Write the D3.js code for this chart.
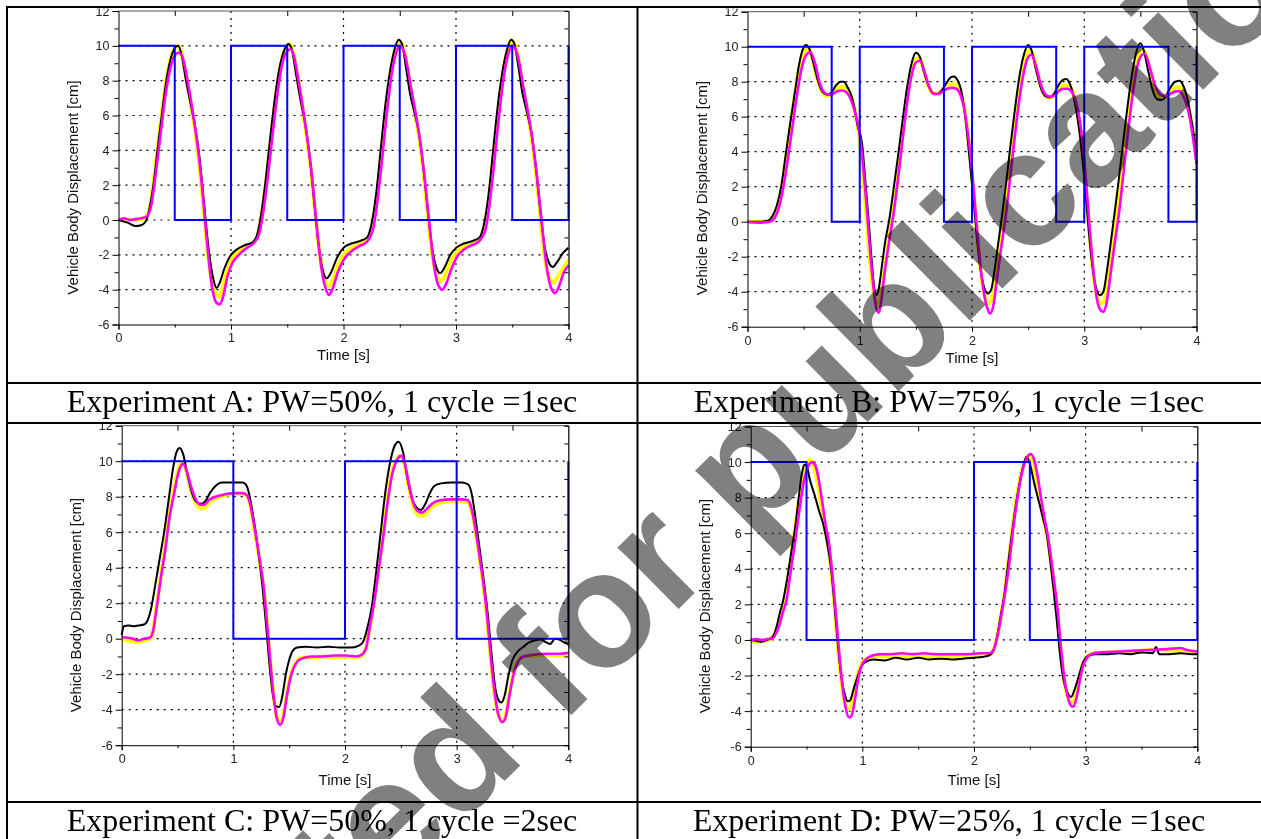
<!DOCTYPE html>
<html>
<head>
<meta charset="utf-8">
<script src="https://cdnjs.cloudflare.com/ajax/libs/d3/7.8.5/d3.min.js"></script>
<style>
  body { margin: 0; background: #fff; }
  svg { display: block; }
</style>
</head>
<body>
<div id="chart"></div>
<script>
// ---- tick labels / axis text ----
const xTicks = [0, 1, 2, 3, 4];
const yTicks = [-6, -4, -2, 0, 2, 4, 6, 8, 10, 12];
const yLabel = 'Vehicle Body Displacement [cm]';
const xLabel = 'Time [s]';
const watermark = 'Accepted for publication';

const captionA = 'Experiment A: PW=50%, 1 cycle =1sec';
const captionB = 'Experiment B: PW=75%, 1 cycle =1sec';
const captionC = 'Experiment C: PW=50%, 1 cycle =2sec';
const captionD = 'Experiment D: PW=25%, 1 cycle =1sec';

// ---- Experiment A (time [s], displacement [cm]) ----
const blueA = [[0,10],[0.5,10],[0.5,0],[1,0],[1,10],[1.5,10],[1.5,0],[2,0],[2,10],[2.5,10],[2.5,0],[3,0],[3,10],[3.5,10],[3.5,0],[4,0],[4,10]];
const blackA = [[0,0],[0.08,-0.15],[0.15,-0.35],[0.2,-0.3],[0.24,-0.1],[0.27,0.5],[0.31,2.0],[0.35,4.2],[0.39,6.3],[0.43,8.2],[0.47,9.4],[0.51,9.95],[0.53,10.0],[0.56,9.5],[0.6,8.0],[0.64,6.7],[0.68,5.4],[0.72,3.6],[0.76,1.0],[0.8,-1.6],[0.84,-3.3],[0.87,-3.9],[0.9,-3.6],[0.94,-2.8],[0.99,-2.1],[1.05,-1.7],[1.12,-1.45],[1.19,-1.3],[1.23,-0.9],[1.27,0.4],[1.31,2.4],[1.35,4.8],[1.39,7.0],[1.43,8.7],[1.47,9.7],[1.51,10.1],[1.54,9.8],[1.58,8.3],[1.62,6.8],[1.66,5.5],[1.7,3.6],[1.74,1.0],[1.78,-1.5],[1.82,-3.0],[1.85,-3.35],[1.89,-3.0],[1.94,-2.2],[2.0,-1.6],[2.07,-1.35],[2.15,-1.2],[2.21,-1.0],[2.25,-0.2],[2.29,1.5],[2.33,4.0],[2.37,6.5],[2.41,8.4],[2.45,9.7],[2.49,10.35],[2.52,10.1],[2.55,9.0],[2.59,7.3],[2.63,6.2],[2.67,5.0],[2.71,3.0],[2.75,0.5],[2.79,-1.7],[2.83,-2.8],[2.86,-3.05],[2.9,-2.7],[2.95,-2.0],[3.0,-1.6],[3.07,-1.35],[3.15,-1.2],[3.21,-1.0],[3.25,-0.2],[3.29,1.5],[3.33,4.0],[3.37,6.5],[3.41,8.4],[3.45,9.7],[3.49,10.35],[3.52,10.1],[3.55,9.0],[3.59,7.3],[3.63,6.2],[3.67,5.0],[3.71,3.0],[3.75,0.5],[3.79,-1.6],[3.83,-2.5],[3.86,-2.7],[3.9,-2.4],[3.95,-1.9],[4.0,-1.6]];
const yellowA = [[0,0],[0.1,0],[0.2,0.05],[0.25,0.2],[0.28,0.8],[0.32,2.6],[0.36,4.8],[0.4,6.9],[0.44,8.6],[0.48,9.6],[0.52,10.0],[0.55,9.8],[0.58,9.0],[0.62,7.6],[0.66,6.0],[0.7,4.2],[0.74,1.8],[0.78,-1.0],[0.82,-3.2],[0.86,-4.2],[0.89,-4.4],[0.92,-4.0],[0.96,-3.0],[1.0,-2.3],[1.06,-1.8],[1.13,-1.5],[1.2,-1.3],[1.24,-0.8],[1.28,0.6],[1.32,2.6],[1.36,4.9],[1.4,7.1],[1.44,8.8],[1.48,9.8],[1.52,10.1],[1.55,9.7],[1.59,8.3],[1.63,6.7],[1.67,4.9],[1.71,2.9],[1.75,0.3],[1.79,-2.0],[1.83,-3.4],[1.87,-3.8],[1.9,-3.5],[1.95,-2.6],[2.0,-2.0],[2.07,-1.6],[2.14,-1.4],[2.2,-1.2],[2.25,-0.5],[2.29,1.0],[2.33,3.3],[2.37,5.8],[2.41,8.0],[2.45,9.5],[2.49,10.2],[2.52,10.1],[2.55,9.4],[2.59,7.8],[2.63,6.4],[2.67,4.8],[2.71,2.8],[2.75,0.2],[2.79,-2.0],[2.83,-3.2],[2.87,-3.5],[2.9,-3.2],[2.95,-2.4],[3.0,-1.9],[3.07,-1.5],[3.14,-1.35],[3.2,-1.2],[3.25,-0.5],[3.29,1.0],[3.33,3.3],[3.37,5.8],[3.41,8.0],[3.45,9.5],[3.49,10.3],[3.52,10.1],[3.55,9.4],[3.59,7.8],[3.63,6.4],[3.67,4.8],[3.71,2.8],[3.75,0.2],[3.79,-2.2],[3.83,-3.3],[3.87,-3.6],[3.9,-3.3],[3.95,-2.8],[4.0,-2.3]];
const magentaA = [[0,0],[0.05,0.1],[0.1,0],[0.15,0.05],[0.2,0.1],[0.25,0.2],[0.29,0.8],[0.33,2.6],[0.37,4.7],[0.41,6.8],[0.45,8.4],[0.49,9.3],[0.53,9.6],[0.56,9.5],[0.59,8.8],[0.63,7.4],[0.67,5.8],[0.71,3.9],[0.75,1.4],[0.79,-1.5],[0.83,-3.8],[0.87,-4.75],[0.9,-4.85],[0.93,-4.4],[0.97,-3.2],[1.01,-2.5],[1.07,-2.0],[1.14,-1.6],[1.2,-1.35],[1.25,-0.8],[1.29,0.6],[1.33,2.6],[1.37,4.9],[1.41,7.1],[1.45,8.8],[1.49,9.6],[1.53,9.8],[1.56,9.4],[1.6,8.0],[1.64,6.4],[1.68,4.6],[1.72,2.5],[1.76,-0.2],[1.8,-2.6],[1.84,-3.9],[1.87,-4.3],[1.9,-4.0],[1.95,-3.0],[2.0,-2.3],[2.07,-1.8],[2.14,-1.5],[2.2,-1.3],[2.26,-0.6],[2.3,1.0],[2.34,3.3],[2.38,5.8],[2.42,8.0],[2.46,9.4],[2.5,10.0],[2.53,9.8],[2.56,9.1],[2.6,7.6],[2.64,6.2],[2.68,4.6],[2.72,2.5],[2.76,0.0],[2.8,-2.4],[2.84,-3.7],[2.88,-4.0],[2.91,-3.7],[2.96,-2.8],[3.01,-2.1],[3.07,-1.7],[3.14,-1.45],[3.2,-1.25],[3.26,-0.6],[3.3,1.0],[3.34,3.3],[3.38,5.8],[3.42,8.0],[3.46,9.4],[3.5,10.0],[3.53,9.8],[3.56,9.1],[3.6,7.6],[3.64,6.2],[3.68,4.6],[3.72,2.5],[3.76,0.0],[3.8,-2.4],[3.84,-3.8],[3.88,-4.2],[3.91,-3.9],[3.96,-3.0],[4.0,-2.6]];

// ---- Experiment B ----
const blueB = [[0,10],[0.75,10],[0.75,0],[1,0],[1,10],[1.75,10],[1.75,0],[2,0],[2,10],[2.75,10],[2.75,0],[3,0],[3,10],[3.75,10],[3.75,0],[4,0],[4,10]];
const blackB = [[0,0],[0.1,0],[0.18,0.05],[0.22,0.3],[0.26,0.9],[0.3,2.0],[0.34,3.8],[0.38,5.6],[0.42,7.3],[0.46,9.0],[0.49,9.8],[0.52,10.1],[0.55,9.9],[0.59,9.0],[0.63,8.0],[0.67,7.4],[0.71,7.25],[0.75,7.4],[0.79,7.8],[0.83,8.0],[0.86,8.0],[0.89,7.7],[0.92,7.3],[0.95,6.6],[0.98,5.5],[1.02,4.5],[1.05,2.3],[1.08,0],[1.11,-2.5],[1.13,-3.8],[1.15,-4.2],[1.17,-3.8],[1.2,-2.4],[1.23,-1.0],[1.26,0],[1.3,1.8],[1.34,3.7],[1.38,5.7],[1.42,7.6],[1.46,9.0],[1.5,9.65],[1.53,9.5],[1.57,8.6],[1.61,7.8],[1.65,7.35],[1.69,7.3],[1.73,7.5],[1.77,7.9],[1.81,8.25],[1.84,8.3],[1.87,8.1],[1.9,7.6],[1.93,6.5],[1.96,4.8],[1.99,2.8],[2.02,0.8],[2.05,-1.3],[2.08,-2.9],[2.11,-3.8],[2.14,-4.1],[2.17,-3.9],[2.2,-2.8],[2.23,-1.4],[2.26,0],[2.3,2.0],[2.34,4.2],[2.38,6.3],[2.42,8.2],[2.46,9.5],[2.5,10.1],[2.53,9.8],[2.57,8.7],[2.61,7.7],[2.65,7.2],[2.69,7.1],[2.73,7.3],[2.77,7.8],[2.81,8.1],[2.84,8.15],[2.87,7.9],[2.9,7.3],[2.93,6.3],[2.96,5.0],[2.99,3.2],[3.02,1.0],[3.05,-1.2],[3.08,-2.9],[3.11,-3.9],[3.14,-4.2],[3.17,-4.0],[3.2,-2.9],[3.23,-1.5],[3.26,0],[3.3,2.0],[3.34,4.2],[3.38,6.3],[3.42,8.2],[3.46,9.6],[3.5,10.2],[3.53,9.8],[3.57,8.6],[3.61,7.5],[3.65,7.0],[3.69,6.95],[3.73,7.2],[3.77,7.7],[3.81,8.0],[3.85,8.05],[3.88,7.8],[3.92,7.0],[3.96,5.6],[4.0,4.0]];
const yellowB = [[0,0],[0.1,0],[0.2,0.05],[0.23,0.25],[0.27,0.9],[0.31,2.1],[0.35,3.9],[0.39,5.8],[0.43,7.6],[0.47,9.0],[0.51,9.8],[0.54,9.95],[0.58,9.3],[0.62,8.2],[0.66,7.5],[0.7,7.2],[0.74,7.25],[0.78,7.5],[0.82,7.7],[0.86,7.7],[0.9,7.45],[0.94,6.8],[0.98,5.6],[1.01,4.0],[1.04,1.8],[1.07,-0.6],[1.1,-2.8],[1.13,-4.3],[1.16,-4.75],[1.19,-4.2],[1.22,-2.8],[1.26,-1.0],[1.3,0.6],[1.34,2.6],[1.38,4.9],[1.42,7.0],[1.46,8.6],[1.5,9.3],[1.53,9.35],[1.57,8.7],[1.61,7.8],[1.65,7.35],[1.69,7.3],[1.73,7.45],[1.77,7.7],[1.81,7.85],[1.85,7.85],[1.89,7.5],[1.93,6.6],[1.96,5.2],[1.99,3.4],[2.02,1.3],[2.05,-1.0],[2.08,-2.9],[2.11,-4.1],[2.14,-4.7],[2.17,-4.5],[2.2,-3.6],[2.23,-2.0],[2.27,-0.3],[2.31,1.6],[2.35,3.9],[2.39,6.2],[2.43,8.1],[2.47,9.4],[2.51,9.8],[2.54,9.6],[2.58,8.6],[2.62,7.6],[2.66,7.15],[2.7,7.1],[2.74,7.3],[2.78,7.6],[2.82,7.8],[2.86,7.75],[2.9,7.4],[2.93,6.6],[2.96,5.4],[2.99,3.7],[3.02,1.5],[3.05,-0.9],[3.08,-2.9],[3.11,-4.2],[3.14,-4.7],[3.17,-4.6],[3.2,-3.8],[3.23,-2.3],[3.27,-0.4],[3.31,1.5],[3.35,3.8],[3.39,6.1],[3.43,8.0],[3.47,9.3],[3.51,9.85],[3.54,9.7],[3.58,8.8],[3.62,7.8],[3.66,7.2],[3.7,7.05],[3.74,7.2],[3.78,7.5],[3.82,7.7],[3.86,7.65],[3.9,7.2],[3.94,6.2],[3.97,5.0],[4.0,3.8]];
const magentaB = [[0,0],[0.1,-0.05],[0.2,0],[0.24,0.2],[0.28,0.8],[0.32,2.0],[0.36,3.6],[0.4,5.4],[0.44,7.2],[0.48,8.7],[0.52,9.5],[0.56,9.7],[0.6,9.1],[0.64,8.0],[0.68,7.4],[0.72,7.25],[0.76,7.3],[0.8,7.45],[0.84,7.5],[0.88,7.4],[0.92,7.0],[0.96,6.2],[1.0,5.0],[1.03,3.2],[1.06,1.0],[1.09,-1.5],[1.12,-3.6],[1.15,-5.0],[1.17,-5.2],[1.19,-4.6],[1.22,-3.0],[1.26,-1.2],[1.3,0.4],[1.34,2.4],[1.38,4.6],[1.42,6.7],[1.46,8.3],[1.5,9.1],[1.54,9.2],[1.58,8.5],[1.62,7.7],[1.66,7.3],[1.7,7.3],[1.74,7.45],[1.78,7.6],[1.82,7.65],[1.86,7.6],[1.9,7.2],[1.93,6.5],[1.96,5.2],[1.99,3.6],[2.02,1.5],[2.05,-0.8],[2.08,-2.8],[2.11,-4.2],[2.14,-5.0],[2.16,-5.25],[2.19,-4.8],[2.22,-3.4],[2.26,-1.5],[2.3,0.3],[2.34,2.5],[2.38,4.8],[2.42,6.9],[2.46,8.5],[2.5,9.4],[2.53,9.55],[2.57,8.9],[2.61,7.9],[2.65,7.3],[2.69,7.15],[2.73,7.2],[2.77,7.45],[2.81,7.6],[2.85,7.6],[2.89,7.4],[2.93,6.8],[2.96,5.8],[2.99,4.2],[3.02,2.0],[3.05,-0.5],[3.08,-2.7],[3.11,-4.3],[3.14,-5.0],[3.17,-5.15],[3.2,-4.6],[3.23,-3.2],[3.27,-1.3],[3.31,0.5],[3.35,2.8],[3.39,5.1],[3.43,7.2],[3.47,8.8],[3.51,9.5],[3.54,9.6],[3.58,8.9],[3.62,8.0],[3.66,7.4],[3.7,7.2],[3.74,7.2],[3.78,7.35],[3.82,7.45],[3.85,7.45],[3.88,7.2],[3.92,6.5],[3.96,5.2],[4.0,3.3]];

// ---- Experiment C ----
const blueC = [[0,10],[1,10],[1,0],[2,0],[2,10],[3,10],[3,0],[4,0],[4,10]];
const blackC = [[0,0.2],[0.02,0.7],[0.06,0.75],[0.1,0.7],[0.15,0.75],[0.2,0.8],[0.23,1.0],[0.26,1.6],[0.3,3.0],[0.34,4.5],[0.38,6.0],[0.42,7.8],[0.46,9.6],[0.49,10.5],[0.52,10.75],[0.55,10.4],[0.59,9.2],[0.63,8.2],[0.67,7.7],[0.71,7.6],[0.75,7.75],[0.79,8.2],[0.84,8.6],[0.9,8.8],[1.0,8.8],[1.08,8.8],[1.11,8.7],[1.14,8.2],[1.17,7.2],[1.2,6.0],[1.23,4.6],[1.26,3.0],[1.29,1.0],[1.32,-1.2],[1.35,-3.0],[1.38,-3.8],[1.41,-3.85],[1.44,-3.2],[1.47,-2.0],[1.5,-1.2],[1.53,-0.7],[1.57,-0.5],[1.65,-0.45],[1.75,-0.5],[1.85,-0.45],[1.95,-0.5],[2.05,-0.5],[2.12,-0.4],[2.16,-0.2],[2.2,0.6],[2.24,1.8],[2.28,3.8],[2.32,6.0],[2.36,8.2],[2.4,9.8],[2.44,10.8],[2.48,11.1],[2.52,10.5],[2.56,9.0],[2.6,7.9],[2.64,7.4],[2.68,7.25],[2.72,7.6],[2.76,8.2],[2.8,8.6],[2.86,8.75],[2.95,8.8],[3.05,8.8],[3.1,8.7],[3.13,8.3],[3.16,7.2],[3.19,5.8],[3.22,4.4],[3.25,2.9],[3.28,1.3],[3.31,-0.7],[3.34,-2.5],[3.37,-3.4],[3.4,-3.6],[3.43,-3.2],[3.46,-2.2],[3.5,-1.2],[3.55,-0.7],[3.6,-0.45],[3.65,-0.2],[3.7,-0.1],[3.75,-0.05],[3.8,-0.2],[3.84,-0.3],[3.88,0.0],[3.92,-0.05],[3.96,-0.2],[4.0,-0.3]];
const yellowC = [[0,0],[0.05,-0.1],[0.1,-0.15],[0.15,-0.2],[0.2,-0.1],[0.25,0.0],[0.28,0.4],[0.31,1.7],[0.35,3.5],[0.39,5.2],[0.43,7.1],[0.47,8.5],[0.51,9.6],[0.54,9.9],[0.58,9.4],[0.62,8.4],[0.66,7.7],[0.7,7.35],[0.74,7.35],[0.78,7.65],[0.84,7.9],[0.9,8.05],[1.0,8.15],[1.08,8.15],[1.12,8.05],[1.15,7.55],[1.18,6.5],[1.21,5.4],[1.24,4.2],[1.27,2.9],[1.3,0.9],[1.33,-1.3],[1.36,-3.2],[1.39,-4.4],[1.42,-4.7],[1.45,-4.3],[1.48,-3.1],[1.52,-1.9],[1.56,-1.35],[1.6,-1.1],[1.7,-1.05],[1.8,-1.0],[1.9,-1.05],[2.0,-1.0],[2.1,-1.05],[2.15,-0.95],[2.19,-0.5],[2.22,0.6],[2.26,2.1],[2.3,3.9],[2.34,5.8],[2.38,7.8],[2.42,9.4],[2.46,10.1],[2.49,10.3],[2.53,9.9],[2.57,8.6],[2.61,7.5],[2.65,7.0],[2.69,6.9],[2.73,7.1],[2.78,7.45],[2.85,7.65],[2.95,7.75],[3.05,7.75],[3.1,7.7],[3.13,7.3],[3.16,6.4],[3.19,5.2],[3.22,3.9],[3.25,2.5],[3.28,0.7],[3.31,-1.4],[3.34,-3.1],[3.37,-4.2],[3.41,-4.65],[3.44,-4.3],[3.47,-3.2],[3.51,-1.9],[3.55,-1.25],[3.6,-1.0],[3.7,-0.95],[3.8,-0.9],[3.9,-0.95],[4.0,-0.9]];
const magentaC = [[0,0.1],[0.05,0.05],[0.1,0.0],[0.15,-0.1],[0.2,0.0],[0.25,0.05],[0.28,0.4],[0.31,1.6],[0.35,3.4],[0.39,5.0],[0.43,6.9],[0.47,8.2],[0.51,9.4],[0.55,9.85],[0.58,9.5],[0.62,8.6],[0.66,7.9],[0.7,7.55],[0.74,7.55],[0.78,7.8],[0.84,8.0],[0.9,8.1],[1.0,8.2],[1.08,8.2],[1.12,8.1],[1.15,7.6],[1.18,6.6],[1.21,5.5],[1.24,4.3],[1.27,3.0],[1.3,1.0],[1.33,-1.2],[1.36,-3.2],[1.39,-4.5],[1.42,-4.85],[1.45,-4.4],[1.48,-3.2],[1.52,-2.0],[1.56,-1.4],[1.6,-1.15],[1.7,-1.0],[1.8,-1.0],[1.9,-0.95],[2.0,-0.95],[2.1,-1.0],[2.15,-0.9],[2.19,-0.5],[2.22,0.6],[2.26,2.0],[2.3,3.8],[2.34,5.6],[2.38,7.6],[2.42,9.2],[2.46,10.0],[2.5,10.3],[2.53,10.0],[2.57,8.8],[2.61,7.7],[2.65,7.2],[2.69,7.1],[2.73,7.3],[2.78,7.6],[2.85,7.8],[2.95,7.85],[3.05,7.85],[3.1,7.8],[3.13,7.4],[3.16,6.5],[3.19,5.3],[3.22,4.0],[3.25,2.6],[3.28,0.8],[3.31,-1.3],[3.34,-3.0],[3.37,-4.2],[3.41,-4.7],[3.44,-4.4],[3.47,-3.3],[3.51,-2.0],[3.55,-1.3],[3.6,-1.0],[3.7,-0.9],[3.8,-0.85],[3.9,-0.85],[4.0,-0.8]];

// ---- Experiment D ----
const blueD = [[0,10],[0.5,10],[0.5,0],[2,0],[2,10],[2.5,10],[2.5,0],[4,0],[4,10]];
const blackD = [[0,0],[0.05,-0.05],[0.1,-0.1],[0.15,0.0],[0.2,0.2],[0.23,0.7],[0.26,1.5],[0.29,2.2],[0.32,3.2],[0.36,4.8],[0.4,6.4],[0.43,8.0],[0.46,9.4],[0.48,9.85],[0.5,9.8],[0.53,9.0],[0.57,8.2],[0.61,7.3],[0.65,6.5],[0.68,5.6],[0.72,4.0],[0.75,2.0],[0.78,-0.2],[0.81,-2.0],[0.84,-3.0],[0.87,-3.45],[0.89,-3.4],[0.92,-2.8],[0.96,-2.0],[1.0,-1.4],[1.04,-1.2],[1.1,-1.1],[1.2,-1.15],[1.3,-1.0],[1.4,-1.1],[1.5,-1.0],[1.6,-1.1],[1.7,-1.05],[1.8,-1.1],[1.9,-1.05],[2.0,-1.0],[2.08,-0.95],[2.14,-0.85],[2.18,-0.5],[2.21,0.3],[2.24,1.4],[2.27,2.5],[2.3,4.0],[2.34,6.0],[2.38,7.8],[2.42,9.2],[2.45,10.0],[2.47,10.3],[2.5,9.9],[2.54,8.8],[2.58,7.8],[2.62,6.8],[2.65,6.0],[2.68,4.6],[2.71,3.0],[2.74,1.2],[2.77,-0.8],[2.8,-2.2],[2.84,-3.0],[2.87,-3.2],[2.9,-2.8],[2.94,-2.0],[2.98,-1.2],[3.02,-0.9],[3.08,-0.8],[3.2,-0.8],[3.3,-0.75],[3.4,-0.8],[3.5,-0.7],[3.6,-0.75],[3.63,-0.4],[3.66,-0.8],[3.75,-0.8],[3.85,-0.75],[3.95,-0.8],[4.0,-0.8]];
const yellowD = [[0,-0.05],[0.05,-0.1],[0.1,-0.05],[0.15,0.0],[0.2,0.15],[0.23,0.55],[0.26,1.2],[0.29,1.9],[0.32,2.8],[0.35,4.0],[0.39,5.9],[0.43,7.7],[0.47,9.2],[0.5,9.9],[0.53,10.1],[0.56,9.8],[0.6,8.8],[0.63,7.6],[0.66,6.4],[0.69,5.5],[0.72,4.0],[0.75,2.0],[0.78,-0.3],[0.81,-2.2],[0.84,-3.4],[0.87,-3.9],[0.89,-3.85],[0.92,-3.1],[0.95,-2.2],[0.98,-1.5],[1.02,-1.15],[1.08,-1.0],[1.15,-0.9],[1.25,-0.95],[1.35,-0.9],[1.45,-0.95],[1.55,-0.9],[1.65,-0.95],[1.75,-0.9],[1.85,-0.95],[1.95,-0.9],[2.05,-0.85],[2.14,-0.8],[2.18,-0.5],[2.21,0.25],[2.24,1.3],[2.27,2.4],[2.3,3.9],[2.34,6.0],[2.38,7.9],[2.42,9.3],[2.46,10.1],[2.49,10.35],[2.52,10.0],[2.56,8.9],[2.6,7.6],[2.63,6.6],[2.66,5.7],[2.69,4.4],[2.72,2.9],[2.75,1.2],[2.78,-0.7],[2.81,-2.3],[2.84,-3.2],[2.87,-3.5],[2.89,-3.45],[2.92,-2.9],[2.95,-2.0],[2.98,-1.3],[3.02,-0.9],[3.07,-0.75],[3.2,-0.7],[3.35,-0.65],[3.5,-0.6],[3.65,-0.55],[3.75,-0.6],[3.85,-0.55],[3.95,-0.7],[4.0,-0.7]];
const magentaD = [[0,0],[0.05,0.05],[0.1,0],[0.15,0.05],[0.2,0.1],[0.23,0.4],[0.26,0.9],[0.29,1.6],[0.32,2.2],[0.35,3.5],[0.39,5.2],[0.43,7.0],[0.47,8.7],[0.51,9.7],[0.55,10.0],[0.58,9.8],[0.61,9.0],[0.64,7.8],[0.67,6.5],[0.7,5.5],[0.73,3.8],[0.76,1.7],[0.79,-0.5],[0.82,-2.5],[0.85,-3.8],[0.88,-4.35],[0.9,-4.3],[0.93,-3.5],[0.96,-2.3],[0.99,-1.5],[1.03,-1.1],[1.08,-0.9],[1.15,-0.8],[1.25,-0.8],[1.35,-0.75],[1.45,-0.8],[1.55,-0.75],[1.65,-0.8],[1.75,-0.8],[1.85,-0.8],[1.95,-0.8],[2.05,-0.75],[2.14,-0.75],[2.18,-0.5],[2.21,0.2],[2.24,1.2],[2.27,2.3],[2.31,4.0],[2.35,6.2],[2.39,8.0],[2.43,9.4],[2.47,10.2],[2.51,10.45],[2.54,10.1],[2.57,9.2],[2.6,8.0],[2.63,6.9],[2.66,5.9],[2.69,4.6],[2.72,3.2],[2.75,1.6],[2.78,-0.5],[2.81,-2.2],[2.84,-3.2],[2.87,-3.7],[2.89,-3.75],[2.92,-3.2],[2.95,-2.2],[2.98,-1.4],[3.02,-0.95],[3.07,-0.75],[3.15,-0.7],[3.3,-0.65],[3.45,-0.6],[3.6,-0.55],[3.75,-0.5],[3.85,-0.45],[3.9,-0.55],[4.0,-0.65]];

// ---- layout (pixels) ----
const W = 1261, H = 839;
const panels = [
  { caption: captionA, blue: blueA, black: blackA, yellow: yellowA, magenta: magentaA,
    cell: [8, 8.5, 628, 373.5], plot: [118.5, 568.5, 11, 324.5], capX: 322, capY: 412, timeY: 360, labX: 78, labY: 187.5 },
  { caption: captionB, blue: blueB, black: blackB, yellow: yellowB, magenta: magentaB,
    cell: [639, 8.5, 622, 373.5], plot: [747.5, 1196.5, 11.7, 326.7], capX: 949, capY: 412, timeY: 363, labX: 707, labY: 188 },
  { caption: captionC, blue: blueC, black: blackC, yellow: yellowC, magenta: magentaC,
    cell: [8, 424, 628, 377], plot: [121.7, 568.3, 425.7, 745.2], capX: 322, capY: 831, timeY: 785, labX: 81, labY: 605 },
  { caption: captionD, blue: blueD, black: blackD, yellow: yellowD, magenta: magentaD,
    cell: [639, 424, 622, 377], plot: [750.7, 1197.3, 426.5, 746.7], capX: 949, capY: 831, timeY: 785, labX: 710, labY: 606 }
];

const sans = "'Liberation Sans', Arial, sans-serif";
const serif = "'Liberation Serif', 'Times New Roman', serif";
const plain = d => String(d); // hyphen minus, no decimals

const svg = d3.select('#chart').append('svg')
  .attr('width', W)
  .attr('height', H);

svg.append('rect').attr('width', W).attr('height', H).attr('fill', '#fff');

function drawPanel(p, i) {
  const [x0, x1, y0, y1] = p.plot;
  const x = d3.scaleLinear().domain([0, 4]).range([x0, x1]);
  const y = d3.scaleLinear().domain([-6, 12]).range([y1, y0]);

  svg.append('clipPath').attr('id', 'cell' + i)
    .append('rect')
    .attr('x', p.cell[0]).attr('y', p.cell[1])
    .attr('width', p.cell[2]).attr('height', p.cell[3]);

  const g = svg.append('g').attr('clip-path', `url(#cell${i})`);

  // dotted grid
  g.append('g')
    .selectAll('line')
    .data(yTicks.filter(v => v > -6 && v < 12))
    .enter().append('line')
    .attr('x1', x0).attr('x2', x1)
    .attr('y1', d => y(d)).attr('y2', d => y(d))
    .attr('stroke', '#000').attr('stroke-width', 1.2).attr('stroke-dasharray', '2,5');
  g.append('g')
    .selectAll('line')
    .data(xTicks.filter(v => v > 0 && v < 4))
    .enter().append('line')
    .attr('x1', d => x(d)).attr('x2', d => x(d))
    .attr('y1', y0).attr('y2', y1)
    .attr('stroke', '#000').attr('stroke-width', 1.2).attr('stroke-dasharray', '2,5');

  // curves
  const smooth = d3.line().x(d => x(d[0])).y(d => y(d[1])).curve(d3.curveMonotoneX);
  const step = d3.line().x(d => x(d[0])).y(d => y(d[1]));

  g.append('path').datum(p.yellow).attr('d', smooth)
    .attr('fill', 'none').attr('stroke', '#ffff00').attr('stroke-width', 4).attr('stroke-linejoin', 'round');
  g.append('path').datum(p.black).attr('d', smooth)
    .attr('fill', 'none').attr('stroke', '#000').attr('stroke-width', 2).attr('stroke-linejoin', 'round');
  g.append('path').datum(p.magenta).attr('d', smooth)
    .attr('fill', 'none').attr('stroke', '#ff00ff').attr('stroke-width', 2.6).attr('stroke-linejoin', 'round');
  g.append('path').datum(p.blue).attr('d', step)
    .attr('fill', 'none').attr('stroke', '#0000ff').attr('stroke-width', 2);

  // frame: top and right
  g.append('line').attr('x1', x0).attr('x2', x1).attr('y1', y0).attr('y2', y0)
    .attr('stroke', '#555').attr('stroke-width', 1);
  g.append('g')
    .attr('transform', `translate(0,${y0})`)
    .call(d3.axisBottom(x).tickValues([0.5, 1.5, 2.5, 3.5]).tickSize(5).tickFormat(''))
    .call(a => a.select('.domain').remove());
  g.append('g')
    .attr('transform', `translate(${x1},0)`)
    .call(d3.axisLeft(y).tickValues(d3.range(-5, 12, 2)).tickSize(4).tickFormat(''))
    .call(a => a.select('.domain').attr('stroke-width', 1.2));

  // left axis
  const ya = g.append('g')
    .attr('transform', `translate(${x0},0)`)
    .call(d3.axisLeft(y).tickValues(yTicks).tickSize(6).tickPadding(3).tickFormat(plain));
  ya.selectAll('text').attr('font-family', sans).attr('font-size', 12.5).attr('fill', '#222');
  g.append('g')
    .attr('transform', `translate(${x0},0)`)
    .call(d3.axisLeft(y).tickValues(d3.range(-5, 12, 2)).tickSize(4).tickFormat(''))
    .call(a => a.select('.domain').remove());

  // bottom axis
  const xa = g.append('g')
    .attr('transform', `translate(0,${y1})`)
    .call(d3.axisBottom(x).tickValues(xTicks).tickSize(5).tickPadding(4).tickFormat(plain));
  xa.selectAll('text').attr('font-family', sans).attr('font-size', 12.5).attr('fill', '#222');
  g.append('g')
    .attr('transform', `translate(0,${y1})`)
    .call(d3.axisBottom(x).tickValues([0.5, 1.5, 2.5, 3.5]).tickSize(3).tickFormat(''))
    .call(a => a.select('.domain').remove());

  // axis titles
  g.append('text')
    .attr('x', (x0 + x1) / 2).attr('y', p.timeY)
    .attr('text-anchor', 'middle')
    .attr('font-family', sans).attr('font-size', 15).attr('fill', '#111')
    .text(xLabel);
  g.append('text')
    .attr('transform', `translate(${p.labX},${p.labY}) rotate(-90)`)
    .attr('text-anchor', 'middle')
    .attr('font-family', sans).attr('font-size', 15).attr('fill', '#111')
    .text(yLabel);

  // caption
  svg.append('text')
    .attr('x', p.capX).attr('y', p.capY)
    .attr('text-anchor', 'middle')
    .attr('font-family', serif).attr('font-size', 32).attr('fill', '#000')
    .text(p.caption);
}

panels.forEach(drawPanel);

// table rules
const rules = svg.append('g').attr('stroke', '#000').attr('stroke-width', 2);
[7, 383, 423, 802].forEach(yy => {
  rules.append('line').attr('x1', 6).attr('x2', W).attr('y1', yy).attr('y2', yy);
});
[7, 637.5].forEach(xx => {
  rules.append('line').attr('x1', xx).attr('x2', xx).attr('y1', 6).attr('y2', H);
});

// watermark across the page
svg.append('text')
  .attr('transform', 'translate(652,566) rotate(-44.7)')
  .attr('text-anchor', 'middle')
  .attr('dy', '0.3em')
  .attr('font-family', sans).attr('font-weight', 'bold').attr('font-size', 164)
  .attr('fill', '#808080')
  .style('mix-blend-mode', 'multiply')
  .text(watermark);
</script>
</body>
</html>
